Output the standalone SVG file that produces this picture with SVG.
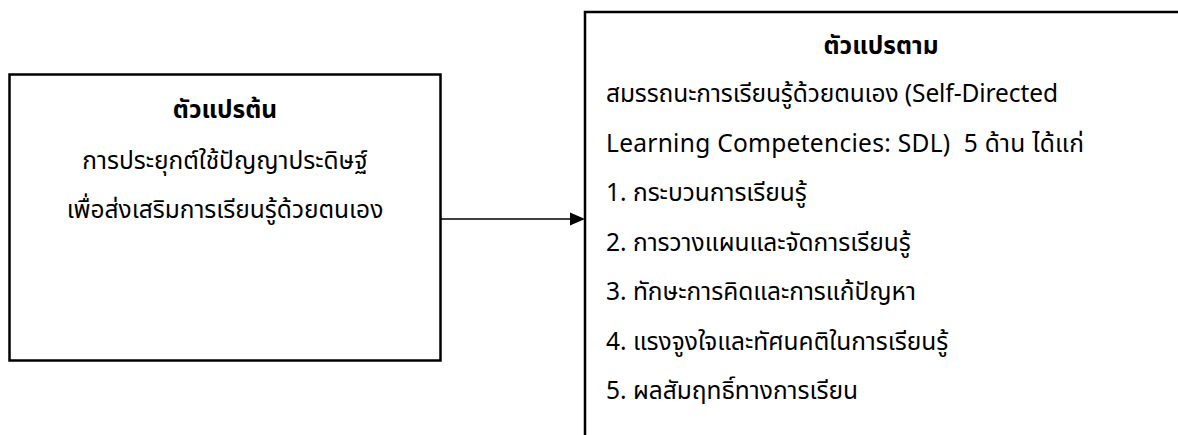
<svg xmlns="http://www.w3.org/2000/svg" width="1178" height="435" viewBox="0 0 1178 435">
<defs>
<style>
.box{fill:#fff;stroke:#000;stroke-width:2.5}
.t{font-family:"Noto Sans Thai","Leelawadee UI","Noto Sans","DejaVu Sans",sans-serif;font-size:24.5px;fill:#000}
.b{font-weight:bold}
.c{text-anchor:middle}
.pre{white-space:pre}
.edge{stroke:#000;stroke-width:1.5;fill:none}
</style>
</defs>
<rect width="1178" height="435" fill="#fff"/>
<g id="node-independent">
<rect class="box" x="9.5" y="74.5" width="431" height="286"/>
<text class="t b c" x="225" y="118">ตัวแปรต้น</text>
<text class="t c" x="225" y="169">การประยุกต์ใช้ปัญญาประดิษฐ์</text>
<text class="t c" x="225" y="218">เพื่อส่งเสริมการเรียนรู้ด้วยตนเอง</text>
</g>
<g id="node-dependent">
<rect class="box" x="585" y="12" width="620" height="440"/>
<text class="t b c" x="881" y="54">ตัวแปรตาม</text>
<text class="t" x="606" y="102" textLength="452" lengthAdjust="spacing">สมรรถนะการเรียนรู้ด้วยตนเอง (Self-Directed</text>
<text class="t pre" x="606" y="151.5" textLength="478" lengthAdjust="spacing">Learning Competencies: SDL)  5 ด้าน ได้แก่</text>
<text class="t" x="606" y="201">1. กระบวนการเรียนรู้</text>
<text class="t" x="606" y="250.5">2. การวางแผนและจัดการเรียนรู้</text>
<text class="t" x="606" y="300">3. ทักษะการคิดและการแก้ปัญหา</text>
<text class="t" x="606" y="349.5">4. แรงจูงใจและทัศนคติในการเรียนรู้</text>
<text class="t" x="606" y="399">5. ผลสัมฤทธิ์ทางการเรียน</text>
</g>
<g id="connectors">
<line class="edge" x1="441" y1="219" x2="570" y2="219"/>
<path d="M570,212.5 L585,219 L570,225.5 z" fill="#000"/>
</g>
</svg>
